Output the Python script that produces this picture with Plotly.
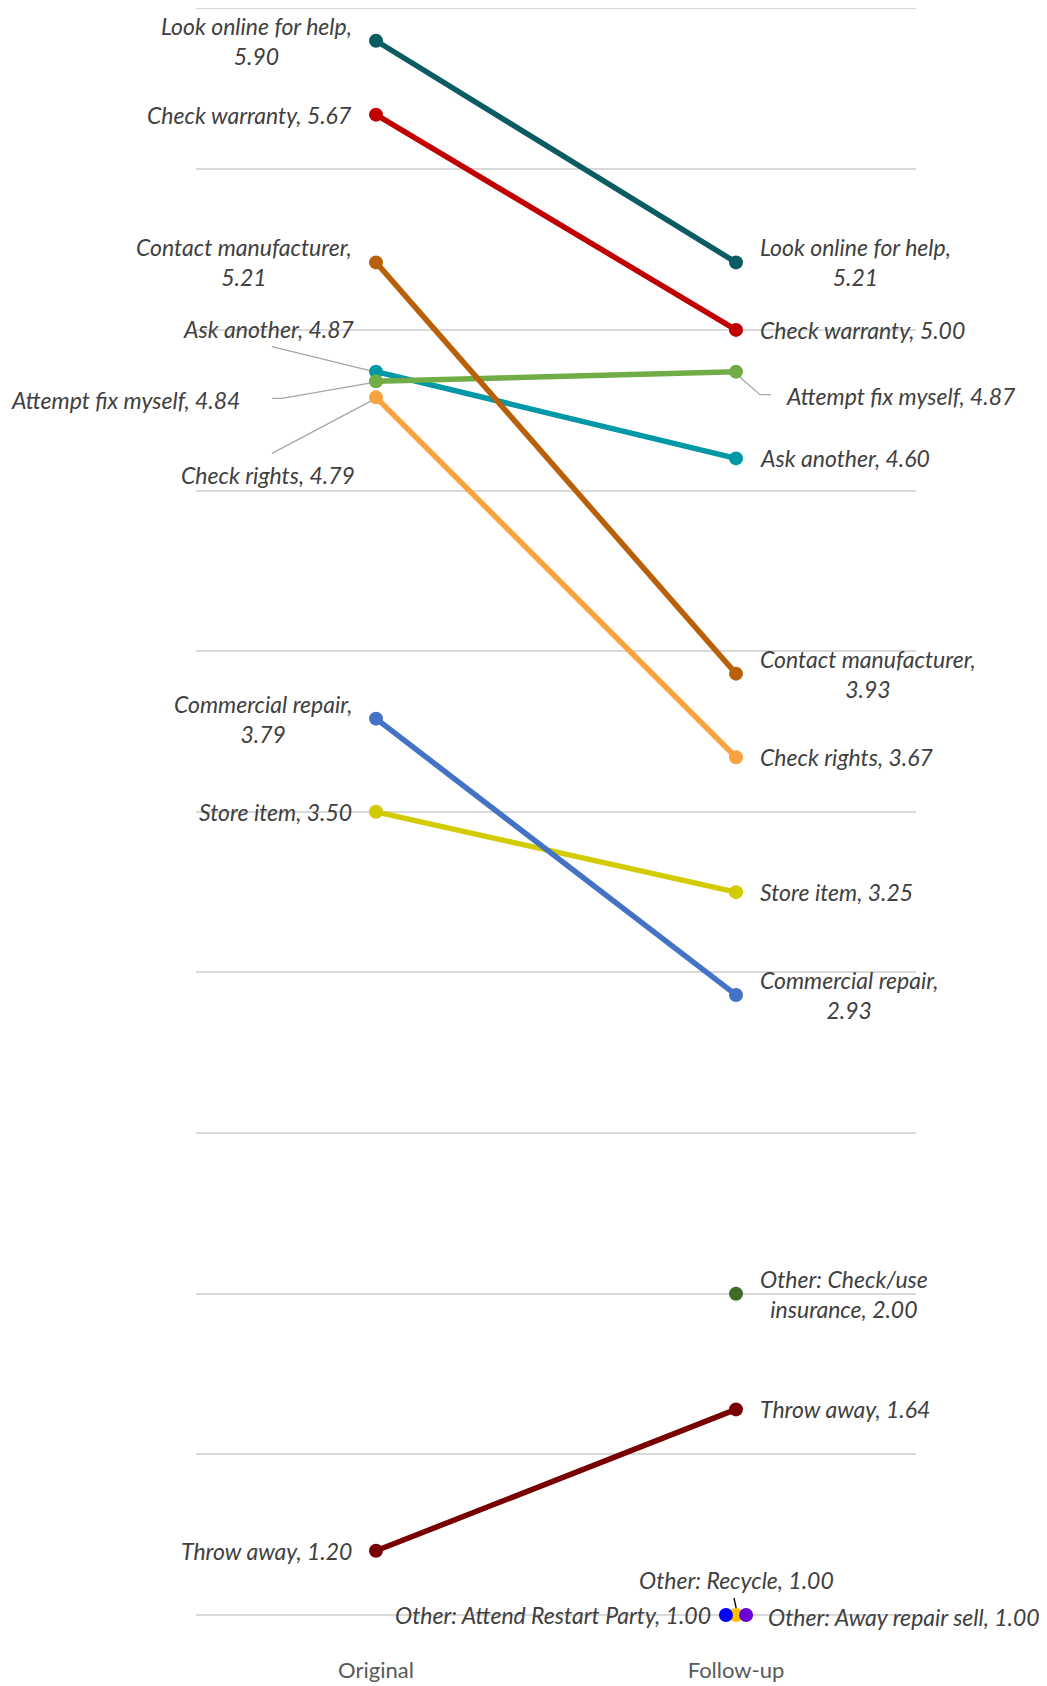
import plotly.graph_objects as go

# ---- data ----
periods = ["Original", "Follow-up"]
series_names = [
    "Look online for help", "Check warranty", "Ask another", "Attempt fix myself",
    "Contact manufacturer", "Check rights", "Store item", "Commercial repair",
    "Other: Check/use insurance", "Throw away", "Other: Recycle",
    "Other: Attend Restart Party", "Other: Away repair sell",
]
original_vals = [5.90, 5.67, 4.87, 4.84, 5.21, 4.79, 3.50, 3.79, None, 1.20, None, None, None]
followup_vals = [5.21, 5.00, 4.60, 4.87, 3.93, 3.67, 3.25, 2.93, 2.00, 1.64, 1.00, 1.00, 1.00]
y_min, y_max, y_step = 1.0, 6.0, 0.5

# ---- styles ----
colors = ["#0B5B63", "#C00000", "#0097A7", "#70AD47", "#B8610A", "#F9A23F",
          "#D2CB00", "#4472C4", "#3E6B28", "#780000", "#FFC000", "#0000FF", "#6A00D6"]
display_names = {
    "Look online for help": "Look online for help,<br>",
    "Contact manufacturer": "Contact manufacturer,<br>",
    "Commercial repair": "Commercial repair,<br>",
    "Other: Check/use insurance": "Other: Check/use<br>insurance, ",
}
point_dx = {"Other: Attend Restart Party": -0.028, "Other: Away repair sell": 0.028}
# (series, end) -> overrides: xanchor, xshift, yshift, leader path (pixels, y up), leader colour
label_style = {
    ("Ask another", 0): dict(xshift=-19, yshift=43, path="M -104,25 L -2,0"),
    ("Attempt fix myself", 0): dict(xshift=-134, yshift=-19, path="M -104,-17 L -94,-17 L -2,-1"),
    ("Check rights", 0): dict(xshift=-19, yshift=-78, path="M -104,-56 L -2,-2"),
    ("Attempt fix myself", 1): dict(xshift=48, yshift=-24, path="M 0,-2 L 24,-23 L 35,-23"),
    ("Other: Recycle", 1): dict(xanchor="center", xshift=0, yshift=35, path="M -2,17 L 1,3", lc="#000000"),
    ("Other: Attend Restart Party", 1): dict(xanchor="right", xshift=-13),
    ("Other: Away repair sell", 1): dict(xshift=20, yshift=-2),
}
FONT = "Lato, 'Open Sans', sans-serif"
LABEL_COLOR = "#404040"
GRID_COLOR = "#D9D9D9"

fig = go.Figure()
annotations = []
shapes = []

for i, name in enumerate(series_names):
    vals = [original_vals[i], followup_vals[i]]
    dx = point_dx.get(name, 0.0)
    xs, ys = [], []
    for j, v in enumerate(vals):
        if v is None:
            continue
        xs.append(j + dx)
        ys.append(v)
    fig.add_trace(go.Scatter(
        x=xs, y=ys, mode="lines+markers", name=name,
        line=dict(color=colors[i], width=5.5),
        marker=dict(color=colors[i], size=14),
        showlegend=False, hoverinfo="skip", cliponaxis=False,
    ))
    for j, v in enumerate(vals):
        if v is None:
            continue
        st = label_style.get((name, j), {})
        default_anchor = "right" if j == 0 else "left"
        default_shift = -22 if j == 0 else 22
        prefix = display_names.get(name, name + ", ")
        text = "<i>" + prefix + f"{v:.2f}" + "</i>"
        annotations.append(dict(
            x=j + dx, y=v, xref="x", yref="y", text=text, showarrow=False,
            xanchor=st.get("xanchor", default_anchor), yanchor="middle",
            xshift=st.get("xshift", default_shift), yshift=st.get("yshift", 0),
            align="center", font=dict(family=FONT, size=23, color=LABEL_COLOR),
        ))
        if "path" in st:
            shapes.append(dict(
                type="path", xref="x", yref="y", xsizemode="pixel", ysizemode="pixel",
                xanchor=j + dx, yanchor=v, path=st["path"],
                line=dict(color=st.get("lc", "#A6A6A6"), width=1.3), layer="below",
            ))

# top gridline sits on the plot edge, where plotly omits the automatic gridline
shapes.append(dict(type="line", xref="paper", yref="y", x0=0, x1=1, y0=y_max, y1=y_max,
                   line=dict(color=GRID_COLOR, width=1.5), layer="below"))

fig.update_layout(
    width=1039, height=1678,
    margin=dict(l=188, r=131, t=0, b=68),
    paper_bgcolor="white", plot_bgcolor="white",
    annotations=annotations, shapes=shapes,
    xaxis=dict(
        range=[-0.5, 1.5], tickvals=[0, 1], ticktext=periods,
        showgrid=False, zeroline=False, showline=False, automargin=False,
        ticks="outside", ticklen=33, tickcolor="rgba(0,0,0,0)",
        tickfont=dict(family=FONT, size=22, color="#595959"),
    ),
    yaxis=dict(
        range=[y_min - 0.0093, y_max + 0.0019], dtick=y_step, tick0=y_min, showticklabels=False,
        showgrid=True, gridcolor=GRID_COLOR, gridwidth=1.5,
        zeroline=False, showline=False, automargin=False,
    ),
)

fig.write_html("out.html", config={"displayModeBar": False})
